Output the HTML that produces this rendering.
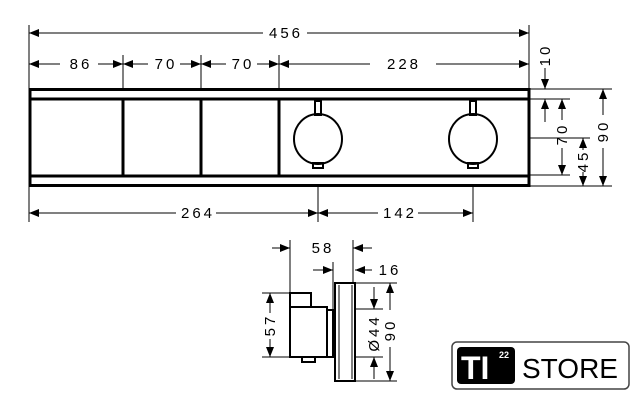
<!DOCTYPE html>
<html><head><style>
html,body{margin:0;padding:0;background:#fff;}
svg{display:block;}
text{font-family:"Liberation Sans",sans-serif;fill:#000;}
</style></head><body>
<svg width="640" height="408" viewBox="0 0 640 408" xmlns="http://www.w3.org/2000/svg">
<defs>
<marker id="a" viewBox="0 0 10 10" refX="10" refY="5" markerWidth="10" markerHeight="10" orient="auto-start-reverse" markerUnits="userSpaceOnUse"><path d="M0,1 L10,5 L0,9 z" fill="#000"/></marker>
</defs>
<g stroke="#000" stroke-width="1" fill="none">
<line x1="29" y1="25" x2="29" y2="222"/>
<line x1="529" y1="25" x2="529" y2="89"/>
<line x1="123" y1="55" x2="123" y2="89"/>
<line x1="201" y1="55" x2="201" y2="89"/>
<line x1="279" y1="55" x2="279" y2="89"/>
<line x1="29" y1="33" x2="263" y2="33" marker-start="url(#a)"/>
<line x1="307" y1="33" x2="529" y2="33" marker-end="url(#a)"/>
<line x1="29" y1="64" x2="60" y2="64" marker-start="url(#a)"/>
<line x1="98" y1="64" x2="123" y2="64" marker-end="url(#a)"/>
<line x1="123" y1="64" x2="148" y2="64" marker-start="url(#a)"/>
<line x1="180" y1="64" x2="201" y2="64" marker-end="url(#a)"/>
<line x1="201" y1="64" x2="226" y2="64" marker-start="url(#a)"/>
<line x1="257" y1="64" x2="279" y2="64" marker-end="url(#a)"/>
<line x1="279" y1="64" x2="370" y2="64" marker-start="url(#a)"/>
<line x1="436" y1="64" x2="529" y2="64" marker-end="url(#a)"/>
<line x1="529" y1="89" x2="612" y2="89"/>
<line x1="529" y1="99" x2="570" y2="99"/>
<line x1="529" y1="138" x2="590" y2="138"/>
<line x1="529" y1="175" x2="570" y2="175"/>
<line x1="529" y1="186" x2="612" y2="186"/>
<line x1="545" y1="68" x2="545" y2="89" marker-end="url(#a)"/>
<line x1="545" y1="122" x2="545" y2="99" marker-end="url(#a)"/>
<line x1="562" y1="120" x2="562" y2="99" marker-end="url(#a)"/>
<line x1="562" y1="148" x2="562" y2="175" marker-end="url(#a)"/>
<line x1="583" y1="150" x2="583" y2="138" marker-end="url(#a)"/>
<line x1="583" y1="172" x2="583" y2="186" marker-end="url(#a)"/>
<line x1="603" y1="115" x2="603" y2="89" marker-end="url(#a)"/>
<line x1="603" y1="148" x2="603" y2="186" marker-end="url(#a)"/>
<line x1="318" y1="186" x2="318" y2="222"/>
<line x1="473" y1="186" x2="473" y2="222"/>
<line x1="29" y1="213" x2="176" y2="213" marker-start="url(#a)"/>
<line x1="216" y1="213" x2="318" y2="213" marker-end="url(#a)"/>
<line x1="318" y1="213" x2="378" y2="213" marker-start="url(#a)"/>
<line x1="418" y1="213" x2="473" y2="213" marker-end="url(#a)"/>
</g>
<g stroke="#000" fill="none">
<rect x="30" y="89.5" width="499" height="96" stroke-width="3"/>
<line x1="30" y1="99" x2="529" y2="99" stroke-width="3"/>
<line x1="30" y1="176" x2="529" y2="176" stroke-width="3"/>
<line x1="123" y1="99" x2="123" y2="176" stroke-width="3"/>
<line x1="201" y1="99" x2="201" y2="176" stroke-width="3"/>
<line x1="279" y1="99" x2="279" y2="176" stroke-width="3"/>
<g stroke-width="2">
<rect x="315" y="101" width="6" height="14"/>
<ellipse cx="318" cy="139" rx="24" ry="25"/>
<rect x="313" y="163" width="10" height="5"/>
<rect x="470" y="101" width="6" height="14"/>
<ellipse cx="473" cy="139" rx="24" ry="25"/>
<rect x="468" y="163" width="10" height="5"/>
</g>
</g>
<g font-size="15" letter-spacing="3">
<text x="286" y="38" text-anchor="middle">456</text>
<text x="81" y="69" text-anchor="middle">86</text>
<text x="166" y="69" text-anchor="middle">70</text>
<text x="243" y="69" text-anchor="middle">70</text>
<text x="404" y="69" text-anchor="middle">228</text>
<text x="198" y="218" text-anchor="middle">264</text>
<text x="400" y="218" text-anchor="middle">142</text>
<text transform="translate(550,55) rotate(-90)" text-anchor="middle">10</text>
<text transform="translate(567,134) rotate(-90)" text-anchor="middle">70</text>
<text transform="translate(588,161) rotate(-90)" text-anchor="middle">45</text>
<text transform="translate(608,131) rotate(-90)" text-anchor="middle">90</text>
</g>
<g stroke="#000" stroke-width="1" fill="none">
<line x1="290" y1="240" x2="290" y2="293"/>
<line x1="353" y1="240" x2="353" y2="283"/>
<line x1="333" y1="262" x2="333" y2="309"/>
<line x1="272" y1="248" x2="290" y2="248" marker-end="url(#a)"/>
<line x1="372" y1="248" x2="353" y2="248" marker-end="url(#a)"/>
<line x1="313" y1="270" x2="333" y2="270" marker-end="url(#a)"/>
<line x1="372" y1="270" x2="355" y2="270" marker-end="url(#a)"/>
<line x1="262" y1="293" x2="290" y2="293"/>
<line x1="262" y1="357" x2="290" y2="357"/>
<line x1="270" y1="313" x2="270" y2="293" marker-end="url(#a)"/>
<line x1="270" y1="339" x2="270" y2="357" marker-end="url(#a)"/>
<line x1="355" y1="283" x2="397" y2="283"/>
<line x1="355" y1="309" x2="383" y2="309"/>
<line x1="355" y1="357" x2="383" y2="357"/>
<line x1="355" y1="381" x2="397" y2="381"/>
<line x1="374" y1="287" x2="374" y2="309" marker-end="url(#a)"/>
<line x1="374" y1="379" x2="374" y2="357" marker-end="url(#a)"/>
<line x1="390" y1="310" x2="390" y2="283" marker-end="url(#a)"/>
<line x1="390" y1="347" x2="390" y2="381" marker-end="url(#a)"/>
<g stroke-width="2">
<rect x="290" y="293" width="21" height="14"/>
<rect x="290" y="307" width="37" height="50"/>
<rect x="327" y="310" width="6" height="47"/>
<rect x="302" y="357" width="13" height="5"/>
<rect x="335" y="283" width="20" height="98"/>
<line x1="339" y1="285" x2="339" y2="379" stroke-width="1"/>
<line x1="352" y1="285" x2="352" y2="379" stroke-width="1"/>
</g>
</g>
<g font-size="15" letter-spacing="3">
<text x="323" y="253" text-anchor="middle">58</text>
<text x="390" y="275" text-anchor="middle">16</text>
<text transform="translate(275,325) rotate(-90)" text-anchor="middle">57</text>
<text transform="translate(379,333) rotate(-90)" text-anchor="middle">Ø44</text>
<text transform="translate(395,330) rotate(-90)" text-anchor="middle">90</text>
</g>
<rect x="452" y="342" width="177" height="47" rx="5" fill="#fff" stroke="#444" stroke-width="1.5"/>
<rect x="457" y="347" width="58" height="37" rx="4" fill="#000"/>
<text x="461" y="379" font-size="32" font-weight="bold" style="fill:#fff">TI</text>
<text x="499" y="358" font-size="9" font-weight="bold" style="fill:#fff">22</text>
<text x="522" y="378" font-size="28" textLength="96" lengthAdjust="spacingAndGlyphs">STORE</text>
</svg>
</body></html>
